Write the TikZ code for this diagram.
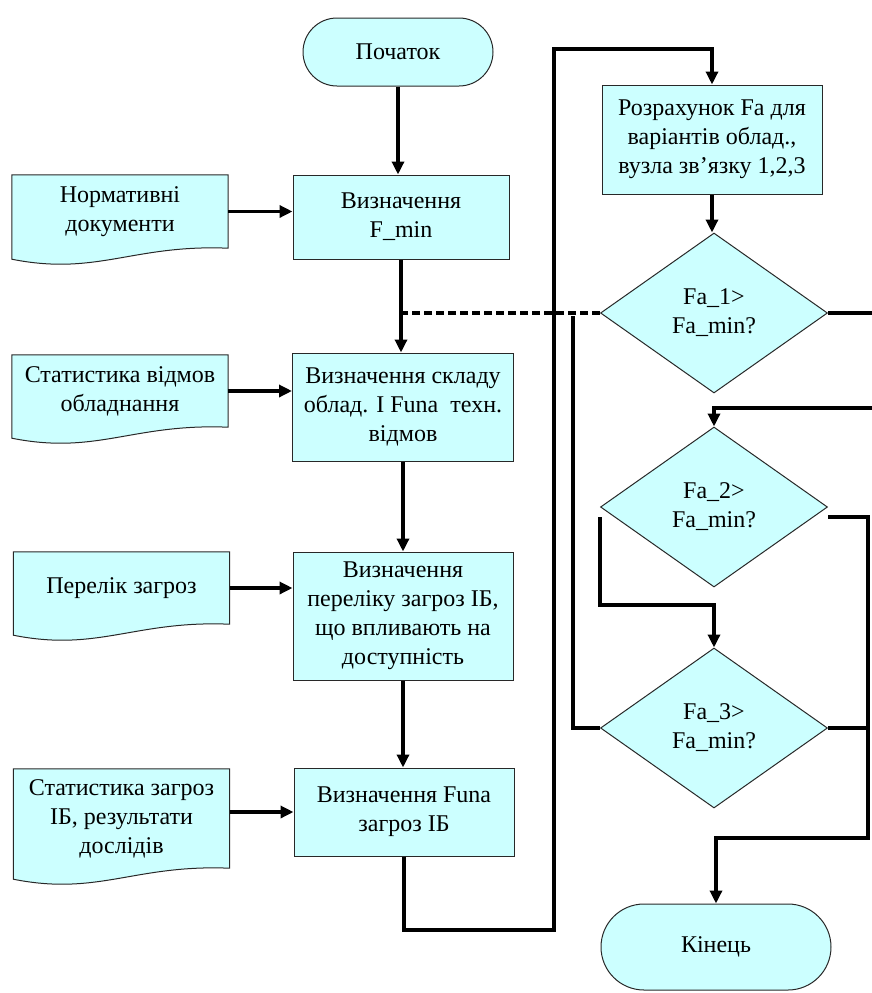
\documentclass[tikz,border=0pt]{standalone}
\usepackage{fontspec}
\setmainfont{Liberation Serif}
\usetikzlibrary{shapes.geometric,arrows.meta,calc}
\definecolor{boxfill}{RGB}{204,255,255}
\definecolor{edgegray}{RGB}{40,40,40}
\pgfdeclarelayer{background}
\pgfsetlayers{background,main}
% outline of a document symbol drawn around a node: flat top, wavy bottom
\newcommand\docedge[1]{%
  \draw[docoutline] (#1.north west) -- (#1.north east) -- (#1.south east)
    .. controls ($(#1.south east)+(-95,-4)$) and ($(#1.south west)+(85,28)$) ..
    ($(#1.south west)+(0,11)$) -- cycle;}
\begin{document}
\begin{tikzpicture}[x=1pt,y=-1pt,
  every node/.style={font=\fontsize{24}{29}\selectfont, align=center, inner sep=0pt},
  procbox/.style={draw=edgegray, line width=1pt, fill=boxfill, rectangle},
  termbox/.style={draw=edgegray, line width=1pt, fill=boxfill, rectangle, rounded corners=#1},
  decision/.style={draw=edgegray, line width=1pt, fill=boxfill, diamond,
    minimum width=227pt, minimum height=160pt},
  docbox/.style={rectangle, minimum width=216pt},
  docoutline/.style={draw=edgegray, line width=1pt, fill=boxfill},
  flow/.style={line width=3.3pt, -{Triangle[length=13pt,width=12pt]}},
  link/.style={line width=3.3pt},
  dashlink/.style={line width=3.3pt, dash pattern=on 8pt off 4pt},
]
\useasboundingbox (0,0) rectangle (872,993);

% main column
\node[termbox=34pt, minimum width=190pt, minimum height=68pt] (start) at (398,52) {Початок};
\node[procbox, minimum width=216pt, minimum height=84pt] (b1) at (401,217) {Визначення\\F\_min};
\node[procbox, minimum width=221pt, minimum height=108pt] (b2) at (403,407)
  {Визначення складу\\облад. I Funa\ \ техн.\\відмов};
\node[procbox, minimum width=220pt, minimum height=128pt] (b3) at (403,616)
  {Визначення\\переліку загроз ІБ,\\що впливають на\\доступність};
\node[procbox, minimum width=220pt, minimum height=88pt] (b4) at (404,812)
  {Визначення Funa\\загроз ІБ};

% input documents
\node[docbox, minimum height=73pt] (doc1) at (120,211.5) {Нормативні\\документи};
\node[docbox, minimum height=72pt] (doc2) at (120,391) {Статистика відмов\\обладнання};
\node[docbox, minimum height=72pt] (doc3) at (121.5,588) {Перелік загроз};
\node[docbox, minimum height=99pt] (doc4) at (121.5,818.5) {Статистика загроз\\ІБ, результати\\дослідів};
\begin{pgfonlayer}{background}
  \docedge{doc1}
  \docedge{doc2}
  \docedge{doc3}
  \docedge{doc4}
\end{pgfonlayer}

% right column
\node[procbox, minimum width=220pt, minimum height=109pt] (b5) at (712,139.5)
  {Розрахунок Fa для\\варіантів облад.,\\вузла зв’язку 1,2,3};
\node[decision] (d1) at (714,313) {Fa\_1>\\Fa\_min?};
\node[decision] (d2) at (714,507) {Fa\_2>\\Fa\_min?};
\node[decision] (d3) at (714,728) {Fa\_3>\\Fa\_min?};
\node[termbox=43pt, minimum width=230pt, minimum height=86pt] (stop) at (716,947) {Кінець};

% helper points for the routed connectors
\coordinate (lp1) at (554,930);
\coordinate (lp2) at (554,49);
\coordinate (rt) at (884,408);
\coordinate (rr) at (868,838);
\coordinate (back) at (573,316);

% connectors
\draw[flow] (start.south) -- (start.south |- b1.north);
\draw[flow] (doc1.east) -- (doc1.east -| b1.west);
\draw[flow] (doc2.east) -- (doc2.east -| b2.west);
\draw[flow] (doc3.east) -- (doc3.east -| b3.west);
\draw[flow] (b4.west -| doc4.east) -- (b4.west);
\draw[flow] (b1.south) -- (b1.south |- b2.north);
\draw[flow] (b2.south) -- (b2.south |- b3.north);
\draw[flow] (b3.south) -- (b3.south |- b4.north);
\draw[dashlink] (d1.west) -- (d1.west -| b1.south);
\draw[flow] (b4.south) -- (b4.south |- lp1) -- (lp1) -- (lp2) -- (lp2 -| b5.north) -- (b5.north);
\draw[flow] (b5.south) -- (b5.south |- d1.north);
\draw[flow] (d1.east) -- (d1.east -| rt) -- (rt) -- (rt -| d2.north) -- (d2.north);
\draw[flow] ($(d2.west)+(0,10)$) -- ($(d2.west)+(0,98)$) -| (d3.north);
\draw[flow] ($(d2.east)+(0,10)$) -| (rr) -| (stop.north);
\draw[link] (d3.east) -- (d3.east -| rr);
\draw[link] (d3.west) -| (back);
\end{tikzpicture}
\end{document}
